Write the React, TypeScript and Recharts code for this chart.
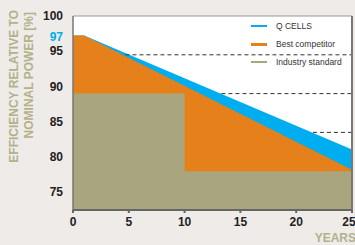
import {
  Area,
  CartesianGrid,
  ComposedChart,
  Legend,
  Line,
  ReferenceLine,
  XAxis,
  YAxis,
} from "recharts";

// degradation curves, years vs % of nominal power
const qcellsYears = [0, 1, 25];
const qcellsValues = [97.5, 97.5, 82.8];
const competitorYears = [0, 1, 25];
const competitorValues = [97.5, 97.5, 80.2];
const industryYears = [0, 10, 25];
const industryValues = [90, 80, 80];

// dashed guide lines: level and the year where they start
const guideLevels = [95, 90, 85];
const guideStarts = [4.7, 13.3, 21.5];

const xTicks = [0, 5, 10, 15, 20, 25];
const yTicks = [75, 80, 85, 90, 95, 97, 100];

const SERIES = ["Q CELLS", "Best competitor", "Industry standard"];
const COLORS: Record<string, string> = {
  "Q CELLS": "#00aeef",
  "Best competitor": "#e5801b",
  "Industry standard": "#a8a57f",
};
const SWATCH: Record<string, number> = {
  "Q CELLS": 2,
  "Best competitor": 3,
  "Industry standard": 2,
};

const toRows = (xs: number[], ys: number[]) =>
  xs.map((year, i) => ({ year, value: ys[i] }));

const qcells = toRows(qcellsYears, qcellsValues);
const competitor = toRows(competitorYears, competitorValues);
const industry = toRows(industryYears, industryValues);

const FONT = "'Liberation Sans Narrow', 'Liberation Sans', Arial, sans-serif";
const TITLE = "#b3b18b";

function YTick(props: any) {
  const { x, y, payload } = props;
  const is97 = payload.value === 97;
  return (
    <text
      x={x}
      y={y}
      dy={4}
      textAnchor="end"
      fontFamily={FONT}
      fontWeight="bold"
      fontSize={12}
      fill={is97 ? "#00aeef" : "#222"}
    >
      {payload.value}
    </text>
  );
}

function LegendBox() {
  return (
    <div style={{ fontFamily: FONT, fontSize: 8.5, color: "#333", textAlign: "left" }}>
      {SERIES.map((name) => (
        <div
          key={name}
          style={{ display: "flex", alignItems: "center", height: 18 }}
        >
          <span
            style={{
              display: "inline-block",
              width: 16,
              height: SWATCH[name],
              background: COLORS[name],
              marginRight: 9,
            }}
          />
          {name}
        </div>
      ))}
    </div>
  );
}

export default function App() {
  return (
    <div
      style={{
        position: "absolute",
        left: 0,
        top: 0,
        width: 355,
        height: 245,
        background: "#efebe8",
      }}
    >
      <ComposedChart
        width={355}
        height={245}
        margin={{ top: 16, right: 3, left: 0, bottom: 15 }}
      >
        <CartesianGrid fill="#fff" horizontal={false} vertical={false} yAxisId="v" />
        <XAxis
          dataKey="year"
          type="number"
          domain={[0, 25]}
          ticks={xTicks}
          allowDataOverflow
          height={20}
          stroke="#666"
          strokeWidth={2}
          tickSize={3}
          tickMargin={4}
          tick={{ fontFamily: FONT, fontWeight: "bold", fontSize: 12, fill: "#222" }}
          label={{
            content: ({ viewBox }: any) => (
              <text
                x={viewBox.x + viewBox.width + 4}
                y={viewBox.y + viewBox.height + 12}
                textAnchor="end"
                fontFamily={FONT}
                fontWeight="bold"
                fontSize={12}
                fill={TITLE}
              >
                YEARS
              </text>
            ),
          }}
        />
        <YAxis
          yAxisId="lbl"
          type="number"
          domain={[72.5, 100]}
          allowDataOverflow
          ticks={yTicks}
          interval={0}
          width={73}
          axisLine={false}
          tickLine={false}
          tickSize={0}
          tickMargin={10}
          tick={<YTick />}
          label={{
            content: () => (
              <g fontFamily={FONT} fontWeight="bold" fontSize={12} fill={TITLE}>
                <text x={17.5} y={10} textAnchor="end" transform="rotate(-90, 17.5, 10)">
                  EFFICIENCY RELATIVE TO
                </text>
                <text x={33} y={12} textAnchor="end" transform="rotate(-90, 33, 12)">
                  NOMINAL POWER [%]
                </text>
              </g>
            ),
          }}
        />
        <YAxis yAxisId="v" type="number" domain={[75, 100]} allowDataOverflow hide />

        <Area
          yAxisId="v"
          data={qcells}
          dataKey="value"
          name="Q CELLS"
          type="linear"
          fill={COLORS["Q CELLS"]}
          fillOpacity={1}
          stroke="none"
          isAnimationActive={false}
        />
        <Area
          yAxisId="v"
          data={competitor}
          dataKey="value"
          name="Best competitor"
          type="linear"
          fill={COLORS["Best competitor"]}
          fillOpacity={1}
          stroke="none"
          isAnimationActive={false}
        />
        <Area
          yAxisId="v"
          data={industry}
          dataKey="value"
          name="Industry standard"
          type="stepAfter"
          fill={COLORS["Industry standard"]}
          fillOpacity={1}
          stroke="none"
          isAnimationActive={false}
        />
        {/* invisible series so the label axis has data to work from */}
        <Line
          yAxisId="lbl"
          data={qcells}
          dataKey="value"
          stroke="none"
          dot={false}
          activeDot={false}
          legendType="none"
          isAnimationActive={false}
        />

        {guideLevels.map((level, i) => (
          <ReferenceLine
            key={level}
            yAxisId="v"
            segment={[
              { x: guideStarts[i], y: level },
              { x: 25, y: level },
            ]}
            stroke="#333"
            strokeDasharray="4 3"
          />
        ))}
        <ReferenceLine yAxisId="v" y={100} stroke="#999" />
        <ReferenceLine yAxisId="v" x={25} stroke="#777" strokeWidth={2} />
        <ReferenceLine yAxisId="v" x={0} stroke="#777" strokeWidth={1.5} />

        <Legend
          layout="horizontal"
          verticalAlign="middle"
          align="center"
          content={<LegendBox />}
          wrapperStyle={{ position: "absolute", top: 17, left: 251, width: 100 }}
        />
      </ComposedChart>
    </div>
  );
}
